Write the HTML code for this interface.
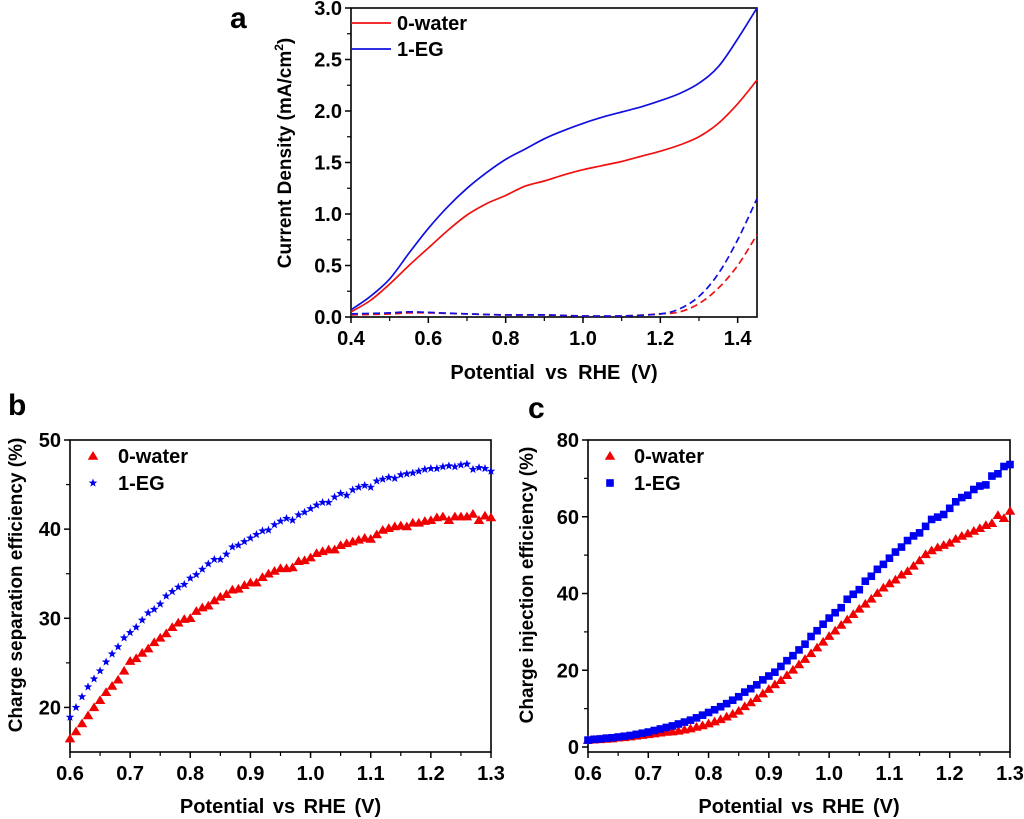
<!DOCTYPE html>
<html><head><meta charset="utf-8">
<style>
html,body{margin:0;padding:0;background:#fff;}
svg{display:block;font-family:"Liberation Sans",Arial,sans-serif;font-weight:bold;}
</style></head>
<body>
<svg id="fig" width="1024" height="819" viewBox="0 0 1024 819" xmlns="http://www.w3.org/2000/svg"></svg>
<script>
// ---- Panel a data ----
const aX = [0.40,0.45,0.50,0.55,0.60,0.65,0.70,0.75,0.80,0.85,0.90,0.95,1.00,1.05,1.10,1.15,1.20,1.25,1.30,1.35,1.40,1.45];
const aRed = [0.05,0.16,0.32,0.50,0.67,0.84,0.99,1.10,1.18,1.27,1.32,1.38,1.43,1.47,1.51,1.56,1.61,1.67,1.75,1.88,2.07,2.30];
const aBlue = [0.07,0.20,0.37,0.62,0.86,1.07,1.25,1.40,1.53,1.63,1.73,1.81,1.88,1.94,1.99,2.04,2.10,2.17,2.27,2.43,2.70,3.00];
const aDashX = [0.40,0.50,0.55,0.60,0.70,0.80,0.90,1.00,1.10,1.20,1.25,1.30,1.35,1.40,1.45];
const aDashRed = [0.02,0.03,0.04,0.04,0.03,0.02,0.02,0.01,0.01,0.03,0.05,0.13,0.28,0.50,0.80];
const aDashBlue = [0.03,0.04,0.05,0.045,0.03,0.02,0.02,0.01,0.01,0.03,0.08,0.20,0.42,0.75,1.15];
const aXTicks = ["0.4","0.6","0.8","1.0","1.2","1.4"];
const aYTicks = ["0.0","0.5","1.0","1.5","2.0","2.5","3.0"];
// ---- Panel b data (x = 0.60..1.30 step 0.01) ----
const bRed = [16.5,17.3,18.2,19.1,20.0,20.8,21.7,22.4,23.1,24.1,25.2,25.5,26.1,26.6,27.3,27.8,28.3,29.0,29.5,29.9,30.0,30.8,31.2,31.4,32.0,32.4,32.7,33.2,33.3,33.7,34.0,34.0,34.6,35.0,35.3,35.6,35.6,35.7,36.4,36.5,36.8,37.3,37.5,37.7,37.7,38.2,38.4,38.6,38.8,39.0,38.9,39.4,39.9,40.1,40.3,40.4,40.3,40.7,40.7,40.9,41.0,41.3,41.4,41.0,41.4,41.4,41.4,41.7,41.0,41.5,41.3];
const bBlue = [18.9,20.0,21.2,22.3,23.2,24.1,25.1,26.0,26.8,27.8,28.4,29.0,29.8,30.6,31.0,31.6,32.5,33.0,33.5,33.8,34.5,34.9,35.5,36.1,36.6,36.6,37.2,38.0,38.2,38.6,39.0,39.4,39.8,39.9,40.5,40.9,41.2,41.0,41.6,41.9,42.3,42.7,43.0,43.0,43.6,44.0,43.8,44.4,44.7,44.9,44.7,45.4,45.6,45.8,45.7,46.1,46.2,46.3,46.5,46.7,46.8,46.8,47.0,47.1,47.0,47.2,47.3,46.7,46.9,46.8,46.5];
const bXTicks = ["0.6","0.7","0.8","0.9","1.0","1.1","1.2","1.3"];
const bYTicks = ["20","30","40","50"];
// ---- Panel c data (x = 0.60..1.30 step 0.01) ----
const cRed = [1.8,1.9,2.0,2.1,2.2,2.4,2.5,2.7,2.9,3.1,3.3,3.5,3.7,3.9,4.0,4.2,4.5,4.8,5.2,5.6,6.1,6.6,7.2,7.9,8.6,9.4,10.6,11.6,12.7,13.9,15.1,16.3,17.4,18.7,20.1,21.5,22.9,24.4,25.9,27.4,28.9,30.3,31.8,33.2,34.6,36.0,37.3,38.6,40.1,41.5,42.6,43.6,44.9,45.8,47.2,48.6,50.2,51.2,52.0,52.6,53.2,54.2,55.0,55.6,56.3,57.0,57.8,58.3,60.4,59.6,61.5];
const cBlue = [1.8,2.0,2.1,2.3,2.4,2.6,2.8,3.0,3.3,3.6,3.9,4.3,4.7,5.1,5.5,6.0,6.5,7.0,7.6,8.3,9.0,9.7,10.5,11.3,12.2,13.1,14.3,15.2,16.2,17.5,18.5,19.5,21.0,22.5,23.8,25.3,26.8,28.8,30.3,32.0,33.6,35.0,36.3,38.5,39.8,41.0,43.2,44.5,46.3,47.6,49.2,50.8,52.1,53.8,55.0,55.8,57.5,59.3,59.9,60.6,62.2,63.9,65.0,65.6,67.1,68.0,68.3,70.6,71.2,73.1,73.6];
const cXTicks = ["0.6","0.7","0.8","0.9","1.0","1.1","1.2","1.3"];
const cYTicks = ["0","20","40","60","80"];

const NS = "http://www.w3.org/2000/svg";
const svg = document.getElementById('fig');
function mk(tag, attrs, parent, text){
  const e = document.createElementNS(NS, tag);
  for (const k in attrs) e.setAttribute(k, attrs[k]);
  if (text !== undefined) e.textContent = text;
  (parent || svg).appendChild(e);
  return e;
}
function scale(d0,d1,r0,r1){ return v => r0 + (v-d0)*(r1-r0)/(d1-d0); }

function axesBox(g, L, T, R, B, xs, ys, xTicks, yTicks, xMinor, yMinor){
  const box = mk('rect',{x:L,y:T,width:R-L,height:B-T,fill:'none',stroke:'#000','stroke-width':1.6},g);
  
  
  xTicks.forEach(t=>{
    const x = xs(parseFloat(t));
    mk('line',{x1:x,x2:x,y1:B,y2:B+6,stroke:'#000','stroke-width':1.5},g);
    const tx = mk('text',{x:x,y:B+28,'text-anchor':'middle','font-size':20},g,t);
    
    
  });
  xMinor.forEach(v=>{ const x=xs(v); mk('line',{x1:x,x2:x,y1:B,y2:B+4,stroke:'#000','stroke-width':1.2},g); });
  yTicks.forEach(t=>{
    const y = ys(parseFloat(t));
    mk('line',{x1:L-6,x2:L,y1:y,y2:y,stroke:'#000','stroke-width':1.5},g);
    const ty = mk('text',{x:L-9,y:y+7,'text-anchor':'end','font-size':20},g,t);
    
    
  });
  yMinor.forEach(v=>{ const y=ys(v); mk('line',{x1:L-4,x2:L,y1:y,y2:y,stroke:'#000','stroke-width':1.2},g); });
}

// ================= Panel a =================
(function(){
  const g = mk('g',{});
  
  
  const L=351,T=8,R=757,B=317;
  const xs = scale(0.4,1.45,L,R), ys = scale(0,3,B,T);
  const xMin=[0.5,0.7,0.9,1.1,1.3], yMin=[0.25,0.75,1.25,1.75,2.25,2.75];
  axesBox(g,L,T,R,B,xs,ys,aXTicks,aYTicks,xMin,yMin);
  function line(xv,yv,color,dash,name){
    const pts = xv.map((x,i)=>[xs(x),ys(yv[i])]);
    let d = 'M'+pts[0][0].toFixed(1)+','+pts[0][1].toFixed(1);
    for(let i=0;i<pts.length-1;i++){
      const p0=pts[Math.max(0,i-1)],p1=pts[i],p2=pts[i+1],p3=pts[Math.min(pts.length-1,i+2)];
      const c1=[p1[0]+(p2[0]-p0[0])/6,p1[1]+(p2[1]-p0[1])/6];
      const c2=[p2[0]-(p3[0]-p1[0])/6,p2[1]-(p3[1]-p1[1])/6];
      d+=` C${c1[0].toFixed(1)},${c1[1].toFixed(1)} ${c2[0].toFixed(1)},${c2[1].toFixed(1)} ${p2[0].toFixed(1)},${p2[1].toFixed(1)}`;
    }
    const p = mk('path',{d:d,fill:'none',stroke:color,'stroke-width':1.7,'stroke-dasharray':dash||'none'},g);
    
    
  }
  line(aX,aRed,'#f01010',null,'line-0-water');
  line(aX,aBlue,'#1010e0',null,'line-1-eg');
  line(aDashX,aDashRed,'#f01010','7,4','dashed-0-water');
  line(aDashX,aDashBlue,'#1010e0','7,4','dashed-1-eg');
  mk('line',{x1:L,x2:L+40,y1:23,y2:23,stroke:'#f01010','stroke-width':1.7},g);
  mk('line',{x1:L,x2:L+40,y1:49,y2:49,stroke:'#1010e0','stroke-width':1.7},g);
  const l1 = mk('text',{x:L+46,y:30,'font-size':20},g,'0-water');
   
  const l2 = mk('text',{x:L+46,y:56,'font-size':20},g,'1-EG');
   
  const xt = mk('text',{x:(L+R)/2,y:379,'text-anchor':'middle','font-size':20,'word-spacing':5},g,'Potential vs RHE (V)');
   
  const yt = mk('text',{x:0,y:0,'text-anchor':'middle','font-size':19,transform:'translate(291,153) rotate(-90)'},g);
   
  yt.appendChild(document.createTextNode('Current Density (mA/cm'));
  mk('tspan',{'font-size':12,dy:-8},yt,'2');
  mk('tspan',{dy:8},yt,')');
  const pl = mk('text',{x:230,y:28,'font-size':30},g,'a');
   
})();

function tri(g,x,y,c,s){ return mk('path',{d:`M${x},${y-s} L${x+s*1.05},${y+s*0.75} L${x-s*1.05},${y+s*0.75} Z`,fill:c},g); }
function star(g,x,y,c,r){
  let d=''; for(let i=0;i<10;i++){ const a=-Math.PI/2+i*Math.PI/5; const rr=i%2?r*0.42:r; d+=(i?'L':'M')+(x+rr*Math.cos(a)).toFixed(1)+','+(y+rr*Math.sin(a)).toFixed(1);} 
  return mk('path',{d:d+'Z',fill:c},g);
}
function sq(g,x,y,c,s){ return mk('rect',{x:x-s,y:y-s,width:2*s,height:2*s,fill:c},g); }

// ================= Panel b =================
(function(){
  const g = mk('g',{});
  
  
  const L=70,T=440,R=491,B=752;
  const xs = scale(0.6,1.3,L,R), ys = scale(15,50,B,T);
  axesBox(g,L,T,R,B,xs,ys,bXTicks,bYTicks,[0.65,0.75,0.85,0.95,1.05,1.15,1.25],[25,35,45]);
  bRed.forEach((v,i)=>{ const m=tri(g,xs(0.6+i*0.01),ys(v),'#f00000',5);   });
  bBlue.forEach((v,i)=>{ const m=star(g,xs(0.6+i*0.01),ys(v),'#0000f0',4.5);   });
  tri(g,93,456,'#f00000',5); star(g,93,483,'#0000f0',4.5);
  const l1=mk('text',{x:118,y:463,'font-size':20},g,'0-water');  
  const l2=mk('text',{x:118,y:490,'font-size':20},g,'1-EG');  
  const xt=mk('text',{x:(L+R)/2,y:813,'text-anchor':'middle','font-size':20,'word-spacing':3},g,'Potential vs RHE (V)');  
  const yt=mk('text',{x:0,y:0,'text-anchor':'middle','font-size':19,transform:'translate(22,585) rotate(-90)'},g,'Charge separation efficiency (%)');  
  const pl=mk('text',{x:8,y:415,'font-size':30},g,'b');  
})();

// ================= Panel c =================
(function(){
  const g = mk('g',{});
  
  
  const L=588,T=440,R=1010,B=752;
  const xs = scale(0.6,1.3,L,R), ys = scale(-1.3,80,B,T);
  axesBox(g,L,T,R,B,xs,ys,cXTicks,cYTicks,[0.65,0.75,0.85,0.95,1.05,1.15,1.25],[10,30,50,70]);
  cRed.forEach((v,i)=>{ const m=tri(g,xs(0.6+i*0.01),ys(v),'#f00000',5);   });
  cBlue.forEach((v,i)=>{ const m=sq(g,xs(0.6+i*0.01),ys(v),'#0000f0',3.8);   });
  tri(g,610,456,'#f00000',5); sq(g,610,483,'#0000f0',3.8);
  const l1=mk('text',{x:634,y:463,'font-size':20},g,'0-water');  
  const l2=mk('text',{x:634,y:490,'font-size':20},g,'1-EG');  
  const xt=mk('text',{x:(L+R)/2,y:813,'text-anchor':'middle','font-size':20,'word-spacing':3},g,'Potential vs RHE (V)');  
  const yt=mk('text',{x:0,y:0,'text-anchor':'middle','font-size':19,transform:'translate(533,585) rotate(-90)'},g,'Charge injection efficiency (%)');  
  const pl=mk('text',{x:528,y:418,'font-size':30},g,'c');  
})();
</script>
</body></html>
